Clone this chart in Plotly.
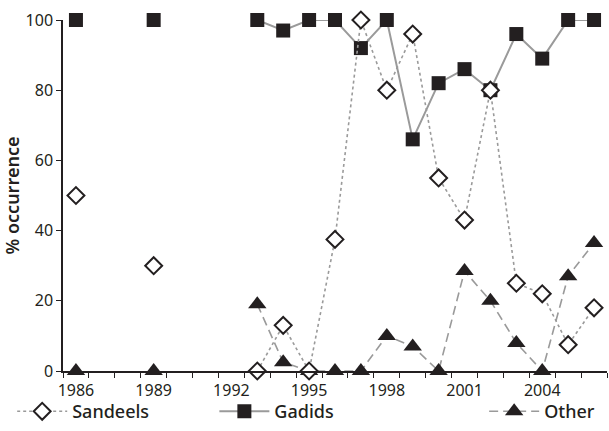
import plotly.graph_objects as go

years = [1986, 1987, 1988, 1989, 1990, 1991, 1992, 1993, 1994, 1995, 1996,
         1997, 1998, 1999, 2000, 2001, 2002, 2003, 2004, 2005, 2006]
sandeels = [50, None, None, 30, None, None, None, 0, 13, 0, 37.5,
            100, 80, 96, 55, 43, 80, 25, 22, 7.5, 18]
gadids = [100, None, None, 100, None, None, None, 100, 97, 100, 100,
          92, 100, 66, 82, 86, 80, 96, 89, 100, 100]
other = [0, None, None, 0, None, None, None, 19, 2.5, 0, 0,
         0, 10, 7, 0, 28.5, 20, 8, 0, 27, 36.5]
xtick_vals = [1986, 1989, 1992, 1995, 1998, 2001, 2004]
ytick_vals = [0, 20, 40, 60, 80, 100]

DARK = "#231f20"
GREY = "#9a9a9a"
FONT = "Noto Sans"

fig = go.Figure()
fig.add_trace(go.Scatter(
    x=years, y=other, name="Other", mode="lines+markers", legend="legend3",
    line=dict(color=GREY, width=1.6, dash="9px,5px"),
    marker=dict(symbol="triangle-up", size=16, color=DARK),
    cliponaxis=False, connectgaps=False))
fig.add_trace(go.Scatter(
    x=years, y=gadids, name="Gadids", mode="lines+markers", legend="legend2",
    line=dict(color=GREY, width=2),
    marker=dict(symbol="square", size=14, color=DARK),
    cliponaxis=False, connectgaps=False))
fig.add_trace(go.Scatter(
    x=years, y=sandeels, name="Sandeels", mode="lines+markers", legend="legend",
    line=dict(color=GREY, width=1.6, dash="3px,3px"),
    marker=dict(symbol="diamond", size=13, color="white",
                line=dict(color=DARK, width=2)),
    cliponaxis=False, connectgaps=False))

legend_common = dict(orientation="h", yanchor="middle", xanchor="left",
                     yref="container", xref="container", y=0.045,
                     font=dict(family=FONT, size=18, color=DARK, weight=500),
                     bgcolor="rgba(0,0,0,0)", itemwidth=50)

fig.update_layout(
    width=609, height=431,
    margin=dict(l=63, r=2, t=20, b=60, autoexpand=False),
    paper_bgcolor="white", plot_bgcolor="white",
    font=dict(family=FONT, size=16, color=DARK),
    showlegend=True,
    legend=dict(legend_common, x=0.02),
    legend2=dict(legend_common, x=0.352),
    legend3=dict(legend_common, x=0.795),
    xaxis=dict(
        range=[1985.5, 2006.5], tickmode="array", tickvals=xtick_vals,
        ticks="", showgrid=False, zeroline=False, automargin=False,
        showline=True, linecolor=DARK, linewidth=1.5,
        tickfont=dict(family=FONT, size=16, color=DARK),
        minor=dict(tickmode="linear", tick0=1985.5, dtick=1, ticks="outside",
                   ticklen=5, tickwidth=1.2, tickcolor=DARK, showgrid=False),
        ticklabelstandoff=4,
    ),
    yaxis=dict(
        range=[0, 100], tickmode="array", tickvals=ytick_vals,
        ticks="outside", ticklen=5, tickwidth=1.2, tickcolor=DARK,
        showgrid=False, zeroline=False, automargin=False,
        showline=True, linecolor=DARK, linewidth=1.5,
        tickfont=dict(family=FONT, size=16, color=DARK),
        title=dict(text="% occurrence", standoff=3,
                   font=dict(family=FONT, size=18, color=DARK, weight=600)),
    ),
)

fig.write_html("out.html", config={"displayModeBar": False},
               post_script="document.body.style.margin='0';")
